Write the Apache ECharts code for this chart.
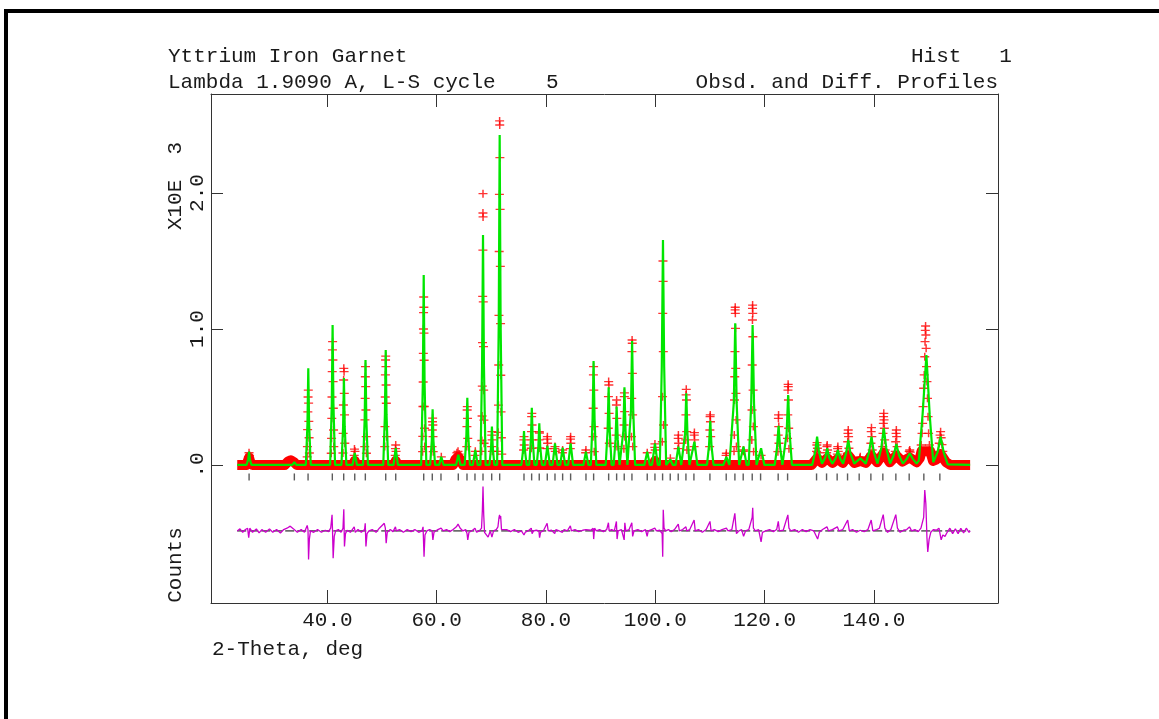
<!DOCTYPE html>
<html><head><meta charset="utf-8">
<script src="https://cdn.jsdelivr.net/npm/echarts@6/dist/echarts.min.js"></script>
<style>html,body{margin:0;padding:0;background:#fff}#c{width:1159px;height:719px}</style>
</head><body><div id="c"></div>
<script>
// ---------- DATA (2-theta in degrees, counts in thousands) ----------
const xTicks = [40, 60, 80, 100, 120, 140];
const yTicks = [0, 1, 2];
const xRange = [18.7, 162.7];
const yRange = [-1.015, 2.728];
const diffOffset = -0.485;      // where GSAS draws the difference curve
const reflTickLevel = -0.088;   // row of reflection markers

const reflections = [25.67, 33.95, 36.46, 40.9, 42.98, 45.0, 46.94, 50.67, 52.5, 57.62, 59.19, 60.78,
  63.95, 65.54, 67.0, 68.47, 70.06, 71.52, 75.97, 77.37, 78.76, 80.23, 81.64, 83.04, 84.5, 87.31,
  88.71, 91.46, 92.92, 94.31, 95.72, 98.52, 99.93, 101.33, 102.73, 104.19, 105.6, 107.06, 109.99,
  112.97, 114.56, 116.08, 117.73, 119.26, 122.48, 124.2, 129.5, 131.33, 133.27, 135.17, 137.3,
  139.44, 141.63, 144.01, 146.45, 149.13, 152.06];

const calcProfile = [
[23.5,0],[25.2,0],[25.5,0.04],[25.66,0.098],[25.82,0.04],[26.1,0],
[33.6,0],[33.95,0.02],[34.3,0],
[36.05,0],[36.35,0.3],[36.5,0.711],[36.65,0.3],[36.95,0],
[40.5,0],[40.8,0.45],[40.95,1.029],[41.1,0.45],[41.4,0],
[42.57,0],[42.87,0.28],[43.02,0.64],[43.17,0.28],[43.47,0],
[44.6,0],[45.0,0.088],[45.4,0],
[46.52,0],[46.82,0.34],[46.97,0.772],[47.12,0.34],[47.42,0],
[50.22,0],[50.52,0.37],[50.67,0.846],[50.82,0.37],[51.12,0],
[52.1,0],[52.5,0.125],[52.9,0],
[57.15,0],[57.46,0.6],[57.62,1.397],[57.78,0.6],[58.1,0],
[58.8,0],[59.1,0.18],[59.25,0.409],[59.4,0.18],[59.7,0],
[60.45,0],[60.84,0.06],[61.25,0],
[63.55,0],[63.95,0.075],[64.35,0],
[65.12,0],[65.43,0.22],[65.6,0.495],[65.77,0.22],[66.08,0],
[66.6,0],[67.06,0.11],[67.5,0],
[68.0,0],[68.3,0.73],[68.47,1.691],[68.64,0.73],[68.95,0],
[69.65,0],[69.94,0.125],[70.1,0.282],[70.26,0.125],[70.55,0],
[71.05,0],[71.35,1.05],[71.52,2.426],[71.69,1.05],[72.0,0],
[75.5,0],[75.8,0.11],[75.97,0.25],[76.14,0.11],[76.45,0],
[76.93,0],[77.23,0.185],[77.4,0.421],[77.57,0.185],[77.87,0],
[78.3,0],[78.6,0.135],[78.77,0.306],[78.94,0.135],[79.25,0],
[79.8,0],[80.25,0.14],[80.7,0],
[81.2,0],[81.64,0.159],[82.1,0],
[82.6,0],[83.04,0.127],[83.5,0],
[84.05,0],[84.5,0.159],[84.95,0],
[86.85,0],[87.3,0.098],[87.75,0],
[88.2,0],[88.52,0.34],[88.7,0.765],[88.88,0.34],[89.2,0],
[90.92,0],[91.26,0.25],[91.46,0.571],[91.66,0.25],[92.0,0],
[92.38,0],[92.72,0.19],[92.92,0.429],[93.12,0.19],[93.46,0],
[93.81,0],[94.15,0.25],[94.35,0.571],[94.55,0.25],[94.89,0],
[95.2,0],[95.54,0.4],[95.75,0.912],[95.96,0.4],[96.3,0],
[98.0,0],[98.52,0.098],[99.0,0],
[99.4,0],[99.93,0.159],[100.45,0],
[100.82,0],[101.18,0.72],[101.4,1.654],[101.62,0.72],[101.98,0],
[102.3,0],[102.75,0.04],[103.2,0],
[103.7,0],[104.22,0.135],[104.75,0],
[105.08,0],[105.44,0.23],[105.66,0.527],[105.88,0.23],[106.24,0],
[106.6,0],[107.15,0.171],[107.7,0],
[109.45,0],[109.82,0.14],[110.05,0.324],[110.28,0.14],[110.65,0],
[112.45,0],[113.0,0.06],[113.55,0],
[113.9,0],[114.36,0.46],[114.62,1.042],[114.88,0.46],[115.34,0],
[115.55,0],[116.14,0.135],[116.7,0],
[117.08,0],[117.54,0.45],[117.8,1.029],[118.06,0.45],[118.52,0],
[118.75,0],[119.35,0.123],[119.95,0],
[121.85,0],[122.27,0.13],[122.55,0.287],[122.83,0.13],[123.25,0],
[123.6,0],[124.02,0.23],[124.3,0.515],[124.58,0.23],[125.0,0],
[128.7,0],[129.25,0.095],[129.6,0.208],[129.95,0.095],[130.5,0.01],
[131.1,0.055],[131.45,0.123],[131.8,0.055],[132.4,0.01],
[133.0,0.05],[133.4,0.11],[133.8,0.05],[134.35,0.01],
[134.9,0.085],[135.3,0.184],[135.7,0.085],[136.4,0.01],
[137.5,0.049],[138.5,0.01],
[139.12,0.095],[139.55,0.208],[139.98,0.095],[140.65,0.01],
[141.35,0.125],[141.8,0.27],[142.25,0.125],[142.95,0.01],
[143.6,0.07],[144.1,0.154],[144.6,0.07],[145.3,0.01],
[146.0,0.045],[146.55,0.086],[147.1,0.045],[147.8,0.01],
[148.2,0.03],[148.9,0.37],[149.6,0.809],[150.2,0.37],[150.85,0.02],
[151.65,0.095],[152.2,0.208],[152.75,0.095],[153.5,0.005],
[157.6,0]
];

const obsBackground = [
[23.5,0.0],[25.2,0.0],[25.45,0.03],[25.66,0.055],[25.9,0.02],[26.3,0.0],[32.2,0.0],[32.8,0.025],
[33.3,0.035],[33.9,0.02],[34.4,0.0],[44.7,0.0],[45.0,0.03],[45.3,0.0],[52.2,0.0],[52.5,0.03],
[52.8,0.0],[63.0,0.0],[63.4,0.04],[63.9,0.06],[64.4,0.035],[64.8,0.0],[99.7,0.0],[99.93,0.03],
[100.2,0.0],[128.6,0.0],[129.6,0.05],[130.5,0.015],[131.45,0.05],[132.4,0.015],[133.4,0.045],
[134.3,0.015],[135.3,0.07],[136.4,0.015],[137.5,0.03],[138.5,0.015],[139.55,0.07],[140.6,0.02],
[141.8,0.09],[142.9,0.02],[144.1,0.07],[145.2,0.025],[146.55,0.055],[147.8,0.02],[148.4,0.05],
[148.7,0.1],[150.3,0.1],[150.8,0.03],[151.4,0.04],[152.2,0.08],[153.2,0.02],[154.0,0.0],[157.6,0.0]
];

const obsPoints = [
[25.55,0.06],[25.66,0.09],[25.75,0.07],
[36.5,0.551],[36.46,0.50],[36.56,0.455],[36.42,0.39],[36.6,0.32],[36.38,0.26],[36.65,0.2],[36.34,0.135],[36.7,0.088],[36.3,0.06],
[40.95,0.907],[40.92,0.846],[41.0,0.772],[40.88,0.686],[41.04,0.613],[40.84,0.50],[41.08,0.417],[40.8,0.343],[41.12,0.257],[40.76,0.196],[41.17,0.135],[40.7,0.086],
[43.0,0.711],[43.05,0.686],[42.97,0.625],[43.09,0.527],[42.93,0.441],[43.13,0.368],[42.88,0.233],[43.18,0.16],[42.84,0.088],
[44.95,0.117],[45.05,0.1],[44.9,0.07],
[46.97,0.723],[46.94,0.649],[47.01,0.576],[46.91,0.49],[47.05,0.404],[46.87,0.331],[47.1,0.208],[46.83,0.135],[47.14,0.086],
[50.67,0.80],[50.64,0.772],[50.71,0.723],[50.61,0.662],[50.74,0.588],[50.58,0.50],[50.78,0.454],[50.53,0.282],[50.83,0.208],[50.49,0.135],
[52.5,0.147],[52.45,0.12],[52.56,0.1],[52.42,0.07],
[57.62,1.235],[57.65,1.16],[57.59,1.12],[57.57,1.0],[57.67,0.97],[57.55,0.82],[57.7,0.77],[57.52,0.61],[57.73,0.43],[57.48,0.43],[57.77,0.27],[57.45,0.21],[57.8,0.135],[57.42,0.098],
[59.25,0.345],[59.22,0.318],[59.29,0.294],[59.19,0.257],[59.32,0.208],[59.15,0.135],[59.36,0.098],
[60.84,0.06],
[63.7,0.09],[63.9,0.1],[64.1,0.08],
[65.6,0.429],[65.57,0.404],[65.64,0.343],[65.53,0.282],[65.68,0.196],[65.5,0.135],
[67.06,0.1],[67.0,0.07],
[68.47,1.995],[68.46,1.853],[68.48,1.824],[68.45,1.58],[68.41,1.24],[68.52,1.2],[68.38,0.9],[68.56,0.87],[68.34,0.58],[68.59,0.55],[68.3,0.36],[68.63,0.33],[68.26,0.18],[68.67,0.16],[68.22,0.1],
[70.1,0.245],[70.07,0.22],[70.14,0.184],[70.04,0.135],[70.18,0.1],
[71.51,2.53],[71.53,2.5],[71.56,2.26],[71.47,1.99],[71.6,1.88],[71.43,1.57],[71.64,1.46],[71.39,1.10],[71.68,1.04],[71.35,0.735],[71.72,0.66],[71.3,0.44],[71.77,0.39],[71.24,0.24],[71.83,0.2],[71.17,0.1],[71.9,0.08],
[75.97,0.208],[75.94,0.184],[76.02,0.147],[75.9,0.11],
[77.4,0.38],[77.37,0.355],[77.44,0.294],[77.34,0.245],[77.47,0.184],[77.3,0.123],
[78.77,0.245],[78.8,0.235],[78.73,0.184],[78.84,0.125],
[80.25,0.208],[80.22,0.19],[80.29,0.16],[80.18,0.12],
[81.64,0.135],[81.6,0.12],[81.69,0.1],
[83.04,0.11],[83.0,0.09],
[84.5,0.208],[84.47,0.19],[84.54,0.16],[84.44,0.12],
[87.3,0.11],[87.25,0.09],
[88.7,0.723],[88.67,0.662],[88.74,0.551],[88.63,0.417],[88.78,0.282],[88.6,0.208],[88.82,0.098],
[91.46,0.613],[91.5,0.588],[91.42,0.502],[91.54,0.38],[91.38,0.27],[91.58,0.16],
[92.92,0.478],[92.88,0.441],[92.96,0.343],[92.84,0.22],[93.0,0.135],
[94.35,0.53],[94.32,0.502],[94.39,0.392],[94.28,0.294],[94.43,0.208],[94.25,0.12],
[95.75,0.919],[95.78,0.895],[95.72,0.833],[95.8,0.674],[95.68,0.49],[95.84,0.368],[95.64,0.208],[95.88,0.135],
[98.52,0.09],
[99.93,0.155],[99.9,0.13],[99.98,0.11],
[101.4,1.50],[101.43,1.35],[101.36,1.115],[101.46,0.833],[101.32,0.502],[101.5,0.294],[101.28,0.171],
[102.75,0.05],
[104.22,0.22],[104.19,0.196],[104.26,0.16],[104.16,0.12],
[105.66,0.556],[105.63,0.515],[105.7,0.478],[105.6,0.368],[105.74,0.245],[105.56,0.184],[105.78,0.11],
[107.15,0.238],[107.12,0.22],[107.19,0.184],[107.09,0.135],
[110.05,0.368],[110.02,0.355],[110.09,0.318],[109.98,0.257],[110.13,0.208],[109.94,0.135],
[113.0,0.086],[112.95,0.07],
[114.62,1.16],[114.6,1.14],[114.64,1.115],[114.67,1.005],[114.57,0.833],[114.71,0.711],[114.53,0.649],[114.75,0.527],[114.49,0.478],[114.79,0.331],[114.45,0.22],[114.84,0.135],[114.4,0.1],
[116.14,0.11],[116.1,0.1],
[117.8,1.176],[117.78,1.152],[117.83,1.115],[117.77,1.066],[117.85,0.943],[117.73,0.735],[117.89,0.551],[117.69,0.404],[117.93,0.282],[117.65,0.184],[117.98,0.098],
[119.35,0.07],
[122.55,0.368],[122.52,0.343],[122.59,0.282],[122.48,0.22],[122.63,0.16],[122.43,0.098],
[124.3,0.593],[124.33,0.576],[124.27,0.551],[124.36,0.478],[124.23,0.368],[124.4,0.27],[124.19,0.196],[124.45,0.12],
[129.6,0.164],[129.55,0.147],[129.66,0.123],[129.5,0.1],[129.72,0.09],
[131.45,0.147],[131.4,0.135],[131.52,0.11],[131.35,0.09],
[133.4,0.135],[133.35,0.12],[133.47,0.1],[133.3,0.08],
[135.3,0.257],[135.25,0.233],[135.36,0.208],[135.2,0.171],[135.42,0.123],[135.12,0.086],[135.5,0.07],
[137.5,0.06],[137.4,0.05],
[139.55,0.274],[139.5,0.245],[139.61,0.208],[139.44,0.16],[139.68,0.11],[139.38,0.08],
[141.8,0.38],[141.76,0.355],[141.85,0.331],[141.72,0.306],[141.9,0.27],[141.66,0.233],[141.96,0.184],[141.6,0.135],[142.05,0.11],
[144.1,0.257],[144.05,0.233],[144.16,0.208],[143.98,0.171],[144.24,0.135],[143.9,0.1],
[146.55,0.11],[146.45,0.1],[146.65,0.095],
[149.45,1.022],[149.4,0.99],[149.5,0.956],[149.35,0.907],[149.55,0.858],[149.3,0.796],[149.62,0.723],[149.2,0.662],[149.7,0.613],[149.1,0.564],[149.8,0.49],[149.0,0.429],[149.9,0.355],[148.9,0.306],[150.0,0.233],[148.8,0.233],[150.15,0.147],[148.65,0.147],
[152.2,0.245],[152.1,0.22],[152.3,0.2],[151.95,0.16],[152.45,0.15],[151.8,0.1],[152.6,0.1]
];

const diffProfile = [
[23.5,0.0],[24.0,0.015],[24.5,-0.01],[25.0,0.01],[25.4,0.02],[25.6,-0.05],[25.8,0.02],[26.3,-0.01],[27.0,0.015],[27.5,-0.015],
[28.0,0.01],[28.7,-0.01],[29.4,0.015],[30.0,-0.01],[30.7,0.01],[31.4,-0.015],[32.0,0.01],[32.6,0.02],[33.2,0.035],[33.8,0.015],
[34.5,-0.01],[35.2,0.01],[35.8,-0.01],[36.3,0.04],[36.45,0.01],[36.55,-0.21],[36.7,-0.06],[36.9,0.0],[37.5,-0.01],[38.2,0.01],
[38.9,-0.01],[39.6,0.005],[40.2,-0.005],[40.6,0.02],[40.85,0.118],[40.95,-0.02],[41.05,-0.2],[41.25,-0.04],[41.5,0.0],[42.0,0.01],
[42.5,-0.01],[42.85,0.02],[43.0,0.16],[43.12,-0.115],[43.3,-0.02],[43.6,0.005],[44.2,-0.01],[44.9,0.03],[45.1,-0.01],[45.6,0.01],
[46.2,-0.01],[46.8,0.01],[46.92,0.056],[47.05,-0.115],[47.25,-0.02],[47.6,0.0],[48.2,0.01],[48.9,-0.01],[49.5,0.02],[50.0,0.04],
[50.4,0.056],[50.6,0.02],[50.75,-0.09],[50.95,-0.01],[51.5,0.01],[52.0,-0.005],[52.45,0.03],[52.6,0.0],[53.2,0.01],[53.9,-0.01],
[54.6,0.01],[55.3,-0.005],[56.0,0.01],[56.7,-0.01],[57.3,0.0],[57.5,0.03],[57.68,-0.19],[57.85,-0.03],[58.2,0.0],[58.7,0.01],
[59.15,0.0],[59.3,-0.066],[59.5,-0.01],[60.2,0.01],[60.8,0.02],[61.2,0.0],[61.8,0.01],[62.4,-0.005],[63.0,0.01],[63.6,0.03],
[63.9,0.05],[64.3,0.02],[64.8,0.0],[65.3,0.01],[65.55,-0.02],[65.68,-0.066],[65.9,-0.01],[66.4,0.0],[67.0,0.02],[67.3,-0.01],
[67.8,0.0],[68.2,0.02],[68.35,0.15],[68.47,0.326],[68.6,0.12],[68.75,-0.01],[69.0,-0.02],[69.4,-0.045],[69.8,0.0],[70.1,-0.045],
[70.4,0.0],[70.9,0.01],[71.2,0.03],[71.4,0.1],[71.5,0.118],[71.6,0.09],[71.7,0.11],[71.85,0.01],[72.2,0.0],[72.8,0.01],
[73.5,-0.005],[74.2,0.01],[74.9,-0.01],[75.5,0.0],[75.97,-0.03],[76.2,-0.01],[76.7,0.0],[77.3,0.02],[77.45,-0.02],[77.7,0.0],
[78.2,0.005],[78.7,0.0],[78.82,-0.05],[79.0,-0.01],[79.5,0.0],[80.2,0.056],[80.4,0.0],[81.0,0.005],[81.6,-0.02],[81.8,0.01],
[82.4,0.0],[83.0,-0.01],[83.3,0.01],[83.9,0.0],[84.45,0.037],[84.65,0.0],[85.3,0.01],[86.0,-0.005],[86.7,0.005],[87.3,0.01],
[87.6,0.0],[88.2,0.005],[88.62,0.02],[88.72,-0.06],[88.88,0.02],[89.2,0.0],[89.8,0.01],[90.5,-0.005],[91.1,0.01],[91.42,0.06],
[91.55,0.0],[92.0,0.01],[92.5,0.0],[92.88,0.07],[93.0,-0.06],[93.2,0.0],[93.8,0.01],[94.3,-0.066],[94.42,0.06],[94.6,0.0],
[95.2,0.01],[95.7,0.06],[95.85,-0.04],[96.1,0.0],[96.8,0.01],[97.5,-0.005],[98.2,0.01],[98.5,-0.04],[98.7,0.0],[99.3,0.01],
[99.9,0.02],[100.2,0.0],[100.8,0.005],[101.25,-0.02],[101.35,-0.19],[101.45,0.155],[101.6,0.02],[101.9,0.0],[102.4,0.01],[102.9,-0.005],
[103.5,0.01],[104.2,0.05],[104.4,0.0],[105.0,0.01],[105.6,0.03],[105.75,0.0],[106.3,0.01],[107.1,0.08],[107.3,0.0],[107.9,0.01],
[108.6,-0.01],[109.3,0.01],[110.0,0.07],[110.2,0.0],[110.8,0.01],[111.5,-0.005],[112.2,0.01],[113.0,0.02],[113.3,0.0],[114.0,0.01],
[114.55,0.13],[114.7,0.05],[114.85,-0.02],[115.3,0.0],[115.8,0.01],[116.15,-0.04],[116.5,0.0],[117.1,0.01],[117.72,0.1],[117.82,0.17],
[117.95,0.02],[118.3,0.0],[118.9,0.01],[119.35,-0.08],[119.6,-0.01],[120.2,0.0],[120.9,0.01],[121.6,-0.005],[122.2,0.01],[122.5,0.07],
[122.7,0.0],[123.4,0.005],[124.25,0.118],[124.45,0.02],[124.8,0.0],[125.5,0.01],[126.2,-0.01],[126.9,0.01],[127.6,-0.005],[128.3,0.01],
[129.0,0.0],[129.7,-0.06],[130.0,-0.01],[130.6,0.01],[131.4,0.03],[131.7,0.0],[132.4,0.01],[133.3,0.03],[133.6,0.0],[134.3,0.01],
[135.2,0.08],[135.5,0.0],[136.1,0.01],[136.8,-0.01],[137.5,0.005],[138.2,-0.005],[138.9,0.01],[139.5,0.08],[139.8,0.0],[140.5,0.01],
[141.0,0.02],[141.7,0.12],[142.0,0.02],[142.5,-0.01],[143.1,0.01],[144.0,0.12],[144.3,0.02],[144.8,-0.01],[145.4,0.005],[146.0,0.01],
[146.5,0.03],[146.9,0.0],[147.5,0.01],[148.1,-0.005],[148.6,0.02],[149.1,0.1],[149.3,0.3],[149.5,0.2],[149.7,-0.05],[149.85,-0.155],
[150.1,-0.06],[150.4,-0.01],[150.9,0.01],[151.4,0.005],[151.9,0.02],[152.3,-0.066],[152.6,-0.03],[153.0,-0.04],[153.4,-0.01],[153.9,0.02],
[154.4,-0.02],[154.9,0.015],[155.4,-0.02],[155.9,0.02],[156.4,-0.015],[156.9,0.02],[157.4,-0.01],[157.6,0.0]
];

// ---------- CHART ----------
const FONT = '"Liberation Mono", "Courier New", monospace';
const TXT = '#1a1a1a';
const chart = echarts.init(document.getElementById('c'), null, {renderer: 'canvas'});

const diffShifted = diffProfile.map(p => [p[0], p[1] + diffOffset]);
const diffZero = [[diffProfile[0][0], diffOffset], [diffProfile[diffProfile.length - 1][0], diffOffset]];
const reflData = reflections.map(x => [x, reflTickLevel]);

function xAxisCfg(pos, labels) {
  return {
    type: 'value', position: pos, min: xRange[0], max: xRange[1],
    axisLine: {show: true, onZero: false, lineStyle: {color: '#333', width: 1}},
    axisTick: {show: true, inside: true, length: 13, customValues: xTicks, lineStyle: {color: '#333'}},
    axisLabel: labels ? {show: true, customValues: xTicks, margin: 7, color: TXT,
      fontFamily: FONT, fontSize: 21, formatter: v => v.toFixed(1)} : {show: false},
    splitLine: {show: false}
  };
}
function yAxisCfg(pos, labels) {
  return {
    type: 'value', position: pos, min: yRange[0], max: yRange[1],
    axisLine: {show: true, onZero: false, lineStyle: {color: '#333', width: 1}},
    axisTick: {show: true, inside: true, length: 12, customValues: yTicks, lineStyle: {color: '#333'}},
    axisLabel: labels ? {show: true, customValues: yTicks, rotate: 90, margin: 3, color: TXT,
      fontFamily: FONT, fontSize: 21, formatter: v => (v === 0 ? '.0' : v.toFixed(1))} : {show: false},
    splitLine: {show: false}
  };
}

const plusPath = 'path://M0,4L8,4M4,0L4,8';

chart.setOption({
  animation: false,
  backgroundColor: '#fff',
  grid: {left: 211, top: 94, width: 787, height: 509, containLabel: false},
  xAxis: [xAxisCfg('bottom', true), xAxisCfg('top', false)],
  yAxis: [yAxisCfg('left', true), yAxisCfg('right', false)],
  graphic: [
    {type: 'rect', shape: {x: 6, y: 11, width: 1300, height: 900}, style: {fill: 'none', stroke: '#000', lineWidth: 4}, silent: true},
    {type: 'text', x: 168, y: 56, style: {text: 'Yttrium Iron Garnet', font: '21px ' + FONT, fill: TXT, align: 'left', verticalAlign: 'middle'}},
    {type: 'text', x: 911, y: 56, style: {text: 'Hist   1', font: '21px ' + FONT, fill: TXT, align: 'left', verticalAlign: 'middle'}},
    {type: 'text', x: 168, y: 82, style: {text: 'Lambda 1.9090 A, L-S cycle    5', font: '21px ' + FONT, fill: TXT, align: 'left', verticalAlign: 'middle'}},
    {type: 'text', x: 998, y: 82, style: {text: 'Obsd. and Diff. Profiles', font: '21px ' + FONT, fill: TXT, align: 'right', verticalAlign: 'middle'}},
    {type: 'text', x: 175, y: 186, rotation: Math.PI / 2, style: {text: 'X10E  3', font: '21px ' + FONT, fill: TXT, align: 'center', verticalAlign: 'middle'}},
    {type: 'text', x: 175, y: 565, rotation: Math.PI / 2, style: {text: 'Counts', font: '21px ' + FONT, fill: TXT, align: 'center', verticalAlign: 'middle'}},
    {type: 'text', x: 212, y: 649, style: {text: '2-Theta, deg', font: '21px ' + FONT, fill: TXT, align: 'left', verticalAlign: 'middle'}}
  ],
  series: [
    {name: 'Obs background', type: 'line', data: obsBackground, symbol: 'none', z: 1,
      lineStyle: {color: '#ff0000', width: 10, join: 'round', cap: 'butt'}},
    {name: 'Obs', type: 'scatter', data: obsPoints, symbol: plusPath, symbolSize: [9, 8], z: 2,
      itemStyle: {color: 'rgba(0,0,0,0)', borderColor: '#ff0000', borderWidth: 1.4}},
    {name: 'Calc', type: 'line', data: calcProfile, symbol: 'none', z: 3,
      lineStyle: {color: '#00e600', width: 2.2}},
    {name: 'Reflections', type: 'scatter', data: reflData, symbol: 'rect', symbolSize: [1.4, 7], z: 3,
      itemStyle: {color: '#333'}},
    {name: 'Diff zero', type: 'line', data: diffZero, symbol: 'none', z: 2,
      lineStyle: {color: '#000', width: 1, type: [9, 3]}},
    {name: 'Diff', type: 'line', data: diffShifted, symbol: 'none', z: 3,
      lineStyle: {color: '#cc00cc', width: 1.3}}
  ]
});
</script></body></html>
